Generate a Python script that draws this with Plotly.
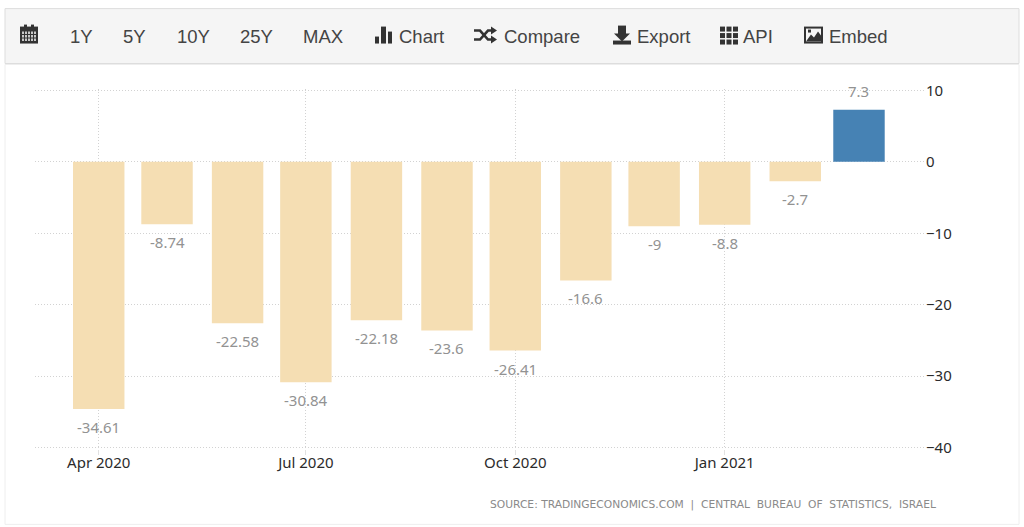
import plotly.graph_objects as go

months = ["2020-04-01","2020-05-01","2020-06-01","2020-07-01","2020-08-01","2020-09-01",
          "2020-10-01","2020-11-01","2020-12-01","2021-01-01","2021-02-01","2021-03-01"]
values = [-34.61,-8.74,-22.58,-30.84,-22.18,-23.6,-26.41,-16.6,-9,-8.8,-2.7,7.3]
tick_dates = ["2020-04-01","2020-07-01","2020-10-01","2021-01-01"]
tick_labels = ["Apr 2020","Jul 2020","Oct 2020","Jan 2021"]
y_ticks = [10,0,-10,-20,-30,-40]
menu_labels = ["1Y","5Y","10Y","25Y","MAX","Chart","Compare","Export","API","Embed"]
menu_centers = [81,134,193,256,323,421,542,663,758,858]
source = "SOURCE: TRADINGECONOMICS.COM  |  CENTRAL  BUREAU  OF  STATISTICS,  ISRAEL"

W, H = 1024, 527
L, R, T, B = 35, 925, 88.57, 449.43
DAY_MS = 86400000
BAR_MS = 22.6 * DAY_MS
NEG, POS = "#f5deb3", "#4682b4"
ICON = "#333333"
GRID = "#d2d2d2"

def px(x): return (x - L) / (R - L)
def py(y): return (B - y) / (B - T)

def rect(x0, y0, x1, y1, fill, line=None):
    return dict(type="rect", xref="paper", yref="paper", x0=px(x0), x1=px(x1), y0=py(y1), y1=py(y0),
                fillcolor=fill, line=dict(color=line or fill, width=1 if line else 0), layer="below" if line else "above")

def poly(points, fill=ICON, line=None, width=0):
    d = "M " + " L ".join(f"{px(a):.5f},{py(b):.5f}" for a, b in points)
    if fill != "none":
        d += " Z"
    return dict(type="path", xref="paper", yref="paper", path=d, fillcolor=fill if fill != "none" else None,
                line=dict(color=line or fill, width=width), layer="above")

shapes = [
    rect(5, 64, 1019, 525, "#ffffff", "#eeeeee"),
    rect(5, 8, 1019, 63, "#f5f5f5", "#dddddd"),
]
# calendar icon
shapes += [rect(20, 26, 38, 43, ICON), rect(24, 24, 27, 27, ICON), rect(31, 24, 34, 27, ICON)]
for yy in (31, 34.5, 38):
    for xx in (22, 25, 28, 31, 34):
        shapes.append(rect(xx, yy, xx + 2, yy + 2.4, "#c8c8c8"))
# bar chart icon
shapes += [rect(375, 36, 379, 43, ICON), rect(381, 26, 386, 43, ICON), rect(388, 31, 392, 43, ICON)]
# shuffle icon
shapes += [
    poly([(474,30),(480,30),(488,39),(492,39)], "none", ICON, 2.6),
    poly([(474,39),(480,39),(488,30),(492,30)], "none", ICON, 2.6),
    poly([(491,26),(497,30),(491,34)]),
    poly([(491,35),(497,39),(491,43)]),
]
# export icon
shapes += [
    rect(618, 25, 626, 34, ICON),
    poly([(614,33),(630,33),(622,41)]),
    rect(613, 40, 631, 44, ICON),
]
# API grid icon
for yy in (26, 32.5, 39):
    for xx in (720, 726.5, 733):
        shapes.append(rect(xx, yy, xx + 5, yy + 5, ICON))
# image icon
shapes += [
    rect(804, 26, 823, 43, ICON),
    rect(806, 28, 821, 41, "#f5f5f5"),
    poly([(806,41),(811,34),(814,37),(818,31),(821,35),(821,41)]),
    rect(808, 29, 811, 32, ICON),
]

annotations = []
for name, c in zip(menu_labels, menu_centers):
    annotations.append(dict(xref="paper", yref="paper", x=px(c), y=py(35.5), text=name, showarrow=False,
                            xanchor="center", yanchor="middle",
                            font=dict(family="Liberation Sans", size=18.5, color="#444444")))
annotations.append(dict(xref="paper", yref="paper", x=px(712.5), y=py(505.5), text=source, showarrow=False,
                        xanchor="center", yanchor="middle",
                        font=dict(family="DejaVu Sans", size=10.7, color="#8a8a8a")))
for m, v in zip(months, values):
    annotations.append(dict(x=m, y=v, text=str(v), showarrow=False, xanchor="center", yanchor="middle",
                            yshift=19 if v > 0 else -18,
                            font=dict(family="Noto Sans", size=15, color="#929292")))

fig = go.Figure(go.Bar(
    x=months, y=values, width=[BAR_MS] * len(months),
    marker=dict(color=[POS if v > 0 else NEG for v in values], line=dict(width=0)),
    hoverinfo="x+y",
))
fig.update_layout(
    width=W, height=H, margin=dict(l=L, r=W - R, t=T, b=H - B, autoexpand=False),
    paper_bgcolor="white", plot_bgcolor="rgba(0,0,0,0)", showlegend=False,
    shapes=shapes, annotations=annotations,
    font=dict(family="Noto Sans", size=15, color="#2b2b2b"),
)
fig.update_xaxes(type="date", range=["2020-03-04", "2021-03-30"], tickvals=tick_dates, ticktext=tick_labels,
                 showgrid=True, griddash="1px,2px", gridcolor=GRID, gridwidth=1, zeroline=False, showline=False,
                 ticks="outside", ticklen=5, tickcolor="#e2e2e2", ticklabelstandoff=-5,
                 tickfont=dict(family="Noto Sans", size=15, color="#2b2b2b"))
fig.update_yaxes(range=[-40.2, 10.2], tickvals=y_ticks, side="right", showgrid=True, griddash="1px,2px",
                 gridcolor=GRID, gridwidth=1, zeroline=False, showline=False, ticks="",
                 tickfont=dict(family="Noto Sans", size=15, color="#2b2b2b"))
fig.write_html("out.html", config=dict(displayModeBar=False),
               post_script="document.body.style.margin='0';document.body.style.overflow='hidden';")
